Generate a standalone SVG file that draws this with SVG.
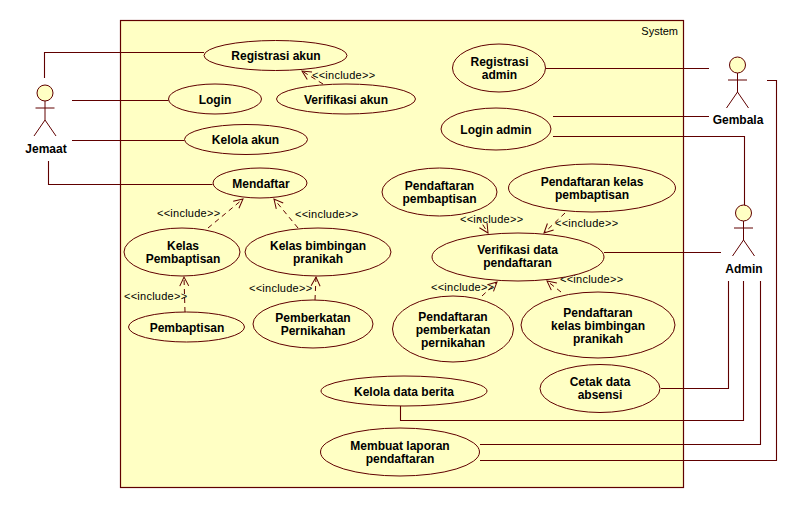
<svg xmlns="http://www.w3.org/2000/svg" width="797" height="508" viewBox="0 0 797 508">
<style>
.b{fill:#ffffc4;stroke:#600000;stroke-width:1.2}
.u{fill:#ffffc4;stroke:#600000;stroke-width:1}
.l{fill:none;stroke:#600000;stroke-width:1.1}
.d{fill:none;stroke:#600000;stroke-width:1;stroke-dasharray:5 4;marker-end:url(#v)}
.a{fill:#ffffc4;stroke:#600000;stroke-width:1}
.t{fill:none;stroke:#600000;stroke-width:1}
text{font-family:"Liberation Sans",Arial,sans-serif;fill:#000}
.n{font-size:12px;font-weight:700;text-anchor:middle}
.i{font-size:11px;letter-spacing:.25px}
.s{font-size:11px;text-anchor:end}
</style>
<defs>
<marker id="v" markerUnits="userSpaceOnUse" markerWidth="14" markerHeight="14" refX="12" refY="7" orient="auto">
<path d="M3 2.500L12 7L3 11.500" fill="none" stroke="#600000" stroke-width="1"/>
</marker>
<g id="actor"><circle cx="0" cy="0" r="8" class="a"/><path d="M-9.500 15H9.500M0 8V27L-11 43M0 27L11 43" class="t"/></g>
</defs>
<rect id="system" x="120.500" y="20.500" width="563" height="467" class="b"/>
<text class="s" x="678" y="35">System</text>
<g id="connectors">
<path class="l" d="M44.500 78V52.500H204"/>
<path class="l" d="M72 100.500H168.500"/>
<path class="l" d="M72 140.500H184.500"/>
<path class="l" d="M48.500 161V184.500H212.500"/>
<path class="l" d="M546 68.500H709"/>
<path class="l" d="M553 116.500H709"/>
<path class="l" d="M553 136.500H744.500V205"/>
<path class="l" d="M604 252.500H721"/>
<path class="l" d="M661 388.500H728.500V281"/>
<path class="l" d="M400.500 406V420.500H743.500V281"/>
<path class="l" d="M480 444.500H760.500V281"/>
<path class="l" d="M480 460.500H776.500V80.500H767"/>
<path class="d" d="M323 84L302 71"/>
<path class="d" d="M208 228L243 199"/>
<path class="d" d="M298 228L274 199"/>
<path class="d" d="M185 312L184 277"/>
<path class="d" d="M315 300L316 277"/>
<path class="d" d="M478 217L488 233"/>
<path class="d" d="M565 213L544 233"/>
<path class="d" d="M482 296L497 282"/>
<path class="d" d="M561 292L547 281"/>
</g>
<g id="include-labels">
<text class="i" x="312" y="79">&lt;&lt;include&gt;&gt;</text>
<text class="i" x="157" y="217">&lt;&lt;include&gt;&gt;</text>
<text class="i" x="295" y="218">&lt;&lt;include&gt;&gt;</text>
<text class="i" x="124" y="300">&lt;&lt;include&gt;&gt;</text>
<text class="i" x="249" y="292">&lt;&lt;include&gt;&gt;</text>
<text class="i" x="460" y="223">&lt;&lt;include&gt;&gt;</text>
<text class="i" x="555" y="227">&lt;&lt;include&gt;&gt;</text>
<text class="i" x="431" y="291">&lt;&lt;include&gt;&gt;</text>
<text class="i" x="560" y="283">&lt;&lt;include&gt;&gt;</text>
</g>
<g id="jemaat"><use href="#actor" x="45" y="93"/><text class="n" x="46" y="153">Jemaat</text></g>
<g id="gembala"><use href="#actor" x="737.500" y="65"/><text class="n" x="738" y="124">Gembala</text></g>
<g id="admin"><use href="#actor" x="743.500" y="213"/><text class="n" x="744" y="273">Admin</text></g>
<g id="registrasi-akun"><ellipse class="u" cx="275.500" cy="55.500" rx="71.500" ry="15"/><text class="n" x="276" y="60">Registrasi akun</text></g>
<g id="login"><ellipse class="u" cx="215" cy="99" rx="46.500" ry="15"/><text class="n" x="215" y="104">Login</text></g>
<g id="verifikasi-akun"><ellipse class="u" cx="346" cy="99" rx="69.500" ry="15"/><text class="n" x="346" y="104">Verifikasi akun</text></g>
<g id="kelola-akun"><ellipse class="u" cx="246" cy="139.500" rx="61.500" ry="15"/><text class="n" x="245.500" y="144">Kelola akun</text></g>
<g id="mendaftar"><ellipse class="u" cx="260" cy="183" rx="47" ry="15"/><text class="n" x="261" y="188">Mendaftar</text></g>
<g id="kelas-pembaptisan"><ellipse class="u" cx="182" cy="252" rx="58" ry="24"/><text class="n" x="183" y="250">Kelas</text><text class="n" x="183" y="263">Pembaptisan</text></g>
<g id="kelas-bimbingan"><ellipse class="u" cx="318" cy="252" rx="73" ry="24"/><text class="n" x="318" y="250">Kelas bimbingan</text><text class="n" x="318" y="263">pranikah</text></g>
<g id="pembaptisan"><ellipse class="u" cx="186.500" cy="327" rx="58" ry="15"/><text class="n" x="187" y="332">Pembaptisan</text></g>
<g id="pemberkatan"><ellipse class="u" cx="313" cy="324" rx="60" ry="24"/><text class="n" x="313" y="322">Pemberkatan</text><text class="n" x="313" y="335">Pernikahan</text></g>
<g id="pendaftaran-pemberkatan"><ellipse class="u" cx="453" cy="329" rx="60.500" ry="33"/><text class="n" x="453" y="321">Pendaftaran</text><text class="n" x="453" y="334">pemberkatan</text><text class="n" x="453" y="347">pernikahan</text></g>
<g id="pendaftaran-bimbingan"><ellipse class="u" cx="598" cy="325" rx="77" ry="33"/><text class="n" x="598" y="317">Pendaftaran</text><text class="n" x="598" y="330">kelas bimbingan</text><text class="n" x="598" y="343">pranikah</text></g>
<g id="cetak-data"><ellipse class="u" cx="600" cy="388.500" rx="60" ry="24"/><text class="n" x="600" y="386">Cetak data</text><text class="n" x="600" y="399">absensi</text></g>
<g id="kelola-berita"><ellipse class="u" cx="404" cy="391" rx="83" ry="15"/><text class="n" x="404" y="396">Kelola data berita</text></g>
<g id="membuat-laporan"><ellipse class="u" cx="400" cy="452" rx="79.500" ry="24"/><text class="n" x="400" y="450">Membuat laporan</text><text class="n" x="400" y="463">pendaftaran</text></g>
<g id="registrasi-admin"><ellipse class="u" cx="499" cy="68" rx="46.500" ry="24"/><text class="n" x="499.500" y="66">Registrasi</text><text class="n" x="499.500" y="79">admin</text></g>
<g id="login-admin"><ellipse class="u" cx="496" cy="129" rx="55" ry="21"/><text class="n" x="496" y="134">Login admin</text></g>
<g id="pendaftaran-pembaptisan"><ellipse class="u" cx="439.500" cy="192" rx="57.500" ry="24"/><text class="n" x="439.500" y="190">Pendaftaran</text><text class="n" x="439.500" y="203">pembaptisan</text></g>
<g id="pendaftaran-kelas"><ellipse class="u" cx="592" cy="188" rx="83.500" ry="24"/><text class="n" x="592" y="186">Pendaftaran kelas</text><text class="n" x="592" y="199">pembaptisan</text></g>
<g id="verifikasi-data"><ellipse class="u" cx="518" cy="257" rx="86" ry="24"/><text class="n" x="517.500" y="254">Verifikasi data</text><text class="n" x="517.500" y="267">pendaftaran</text></g>
</svg>
